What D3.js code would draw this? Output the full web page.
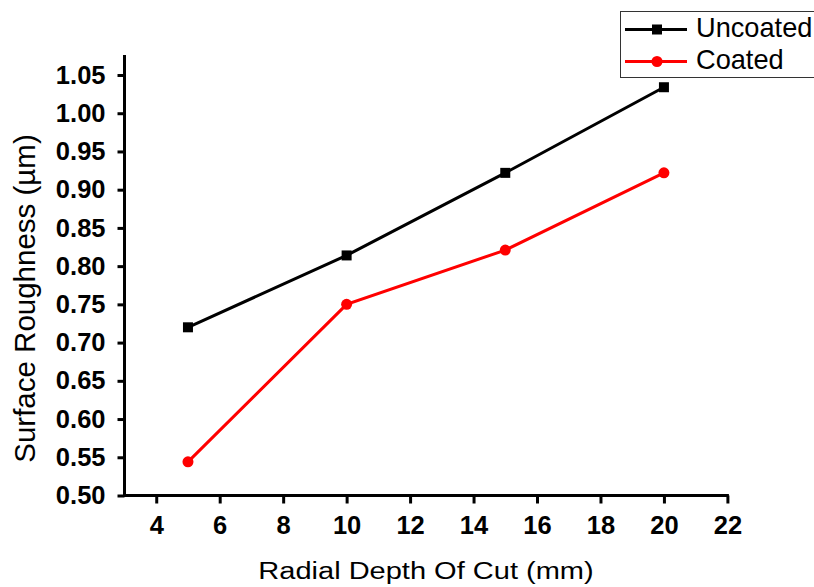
<!DOCTYPE html>
<html>
<head>
<meta charset="utf-8">
<script src="https://cdn.jsdelivr.net/npm/d3@7"></script>
<style>
  html, body { margin: 0; padding: 0; background: #fff; }
  svg { display: block; }
  svg text { font-family: "Liberation Sans", Arial, sans-serif; }
</style>
</head>
<body>
<svg id="chart" width="814" height="587"></svg>
<script>
// ---- data ----
const depths = [5, 10, 15, 20];
const uncoated = [0.720, 0.814, 0.922, 1.034];
const coated = [0.544, 0.750, 0.821, 0.922];
const seriesNames = ["Uncoated", "Coated"];
const seriesColors = ["#000000", "#ff0000"];
const xTicks = [4, 6, 8, 10, 12, 14, 16, 18, 20, 22];
const xMinorTicks = [3, 5, 7, 9, 11, 13, 15, 17, 19, 21];
const yTicks = [0.50, 0.55, 0.60, 0.65, 0.70, 0.75, 0.80, 0.85, 0.90, 0.95, 1.00, 1.05];
const yMinorTicks = [0.525, 0.575, 0.625, 0.675, 0.725, 0.775, 0.825, 0.875, 0.925, 0.975, 1.025, 1.075];
const xTitle = "Radial Depth Of Cut (mm)";
const yTitle = "Surface Roughness (µm)";

const svg = d3.select("#chart");
const x = d3.scaleLinear().domain([3, 22]).range([124.5, 727.4]);
const y = d3.scaleLinear().domain([0.5, 1.05]).range([495.5, 75]);
const yTop = 1.076;
const FONT = '"Liberation Sans", Arial, sans-serif';

// x axis ticks
const gx = svg.append("g").attr("transform", `translate(0,${y(0.5)})`);
gx.call(d3.axisBottom(x).tickValues(xMinorTicks).tickSize(5).tickFormat(""));
gx.call(d3.axisBottom(x).tickValues(xTicks).tickSize(8).tickPadding(12).tickFormat(d3.format("d")));
gx.attr("font-family", FONT);
gx.selectAll(".domain").remove();
gx.selectAll("line").attr("stroke", "#000").attr("stroke-width", 3);
gx.selectAll("text").attr("font-size", 25.5).attr("font-weight", "bold").attr("fill", "#000");

// y axis ticks
const gy = svg.append("g").attr("transform", `translate(${x(3)},0)`);
gy.call(d3.axisLeft(y).tickValues(yMinorTicks).tickSize(4).tickFormat(""));
gy.call(d3.axisLeft(y).tickValues(yTicks).tickSize(7).tickPadding(12).tickFormat(d3.format(".2f")));
gy.attr("font-family", FONT);
gy.selectAll(".domain").remove();
gy.selectAll("line").attr("stroke", "#000").attr("stroke-width", 3);
gy.selectAll("text").attr("font-size", 25.5).attr("font-weight", "bold").attr("fill", "#000");

// axis lines
svg.append("line").attr("x1", x(3) - 1.5).attr("x2", x(22) + 1.5)
  .attr("y1", y(0.5)).attr("y2", y(0.5)).attr("stroke", "#000").attr("stroke-width", 3);
svg.append("line").attr("x1", x(3)).attr("x2", x(3))
  .attr("y1", y(0.5)).attr("y2", y(yTop)).attr("stroke", "#000").attr("stroke-width", 3);

// series
const seriesData = [uncoated, coated];
const line = d3.line().x((d, i) => x(depths[i])).y(d => y(d));
seriesData.forEach((vals, si) => {
  svg.append("path").datum(vals).attr("d", line)
    .attr("fill", "none").attr("stroke", seriesColors[si]).attr("stroke-width", 3);
  const g = svg.append("g");
  if (si === 0) {
    g.selectAll("rect").data(vals).join("rect")
      .attr("x", (d, i) => x(depths[i]) - 5).attr("y", d => y(d) - 5)
      .attr("width", 10).attr("height", 10).attr("fill", seriesColors[si]);
  } else {
    g.selectAll("circle").data(vals).join("circle")
      .attr("cx", (d, i) => x(depths[i])).attr("cy", d => y(d))
      .attr("r", 5.5).attr("fill", seriesColors[si]);
  }
});

// legend
const lg = svg.append("g");
lg.append("rect").attr("x", 620.5).attr("y", 11.5).attr("width", 210).attr("height", 66)
  .attr("fill", "#fff").attr("stroke", "#333").attr("stroke-width", 1);
const legY = [29.5, 61.5];
seriesNames.forEach((name, si) => {
  lg.append("line").attr("x1", 625).attr("x2", 687).attr("y1", legY[si]).attr("y2", legY[si])
    .attr("stroke", seriesColors[si]).attr("stroke-width", 3);
  if (si === 0) {
    lg.append("rect").attr("x", 652).attr("y", legY[si] - 5).attr("width", 10).attr("height", 10)
      .attr("fill", seriesColors[si]);
  } else {
    lg.append("circle").attr("cx", 657).attr("cy", legY[si]).attr("r", 5.5).attr("fill", seriesColors[si]);
  }
  lg.append("text").attr("x", 696).attr("y", legY[si] + 7.5).attr("font-size", 27.2)
    .attr("fill", "#000").text(name);
});

// titles
svg.append("text")
  .attr("transform", `translate(426,579) scale(1.18,1)`)
  .attr("text-anchor", "middle").attr("font-size", 24.6).attr("fill", "#000").text(xTitle);
svg.append("text")
  .attr("transform", `translate(34.5,298.5) rotate(-90)`)
  .attr("text-anchor", "middle").attr("font-size", 29.5).attr("fill", "#000").text(yTitle);
</script>
</body>
</html>
